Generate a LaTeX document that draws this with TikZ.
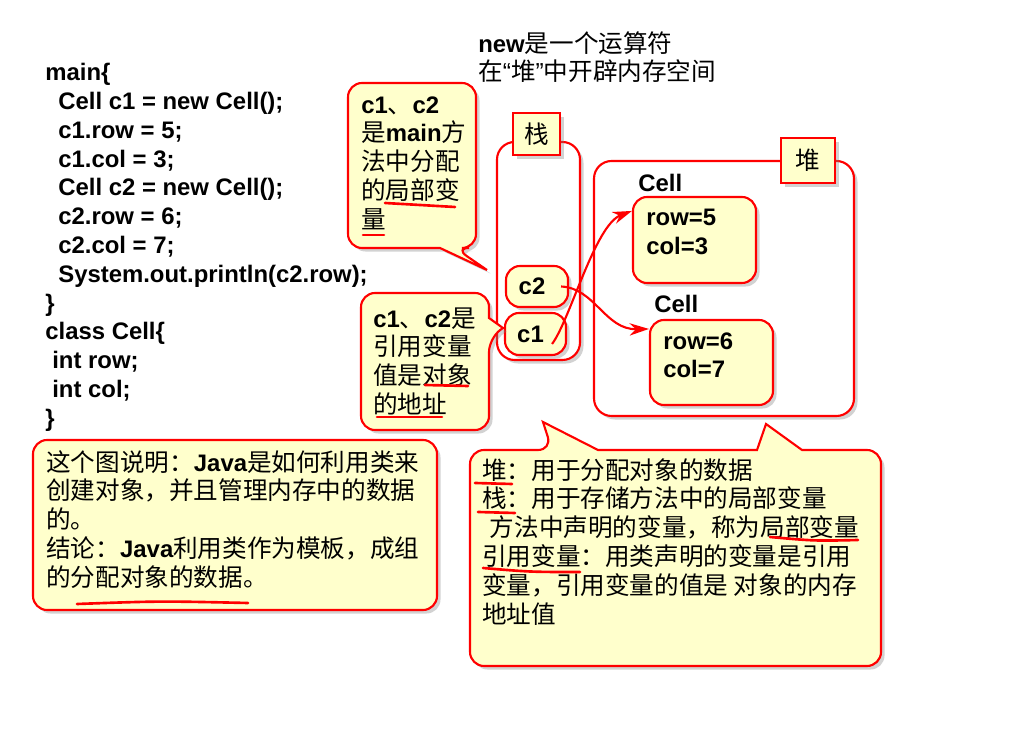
\documentclass[tikz,border=0pt]{standalone}
\usepackage{fontspec}
\setmainfont{Liberation Sans}
\newfontfamily\cjk{Noto Sans CJK SC}
\newcommand\zh[1]{{\cjk\mdseries\fontsize{14}{16.4}\selectfont #1}}
\newcommand\zhq[1]{{\mdseries\fontsize{14}{16.4}\selectfont #1}}
\usetikzlibrary{arrows.meta}
\usetikzlibrary{positioning,fit,shadows}

\definecolor{noteyellow}{HTML}{FFFFCC}
\definecolor{notered}{HTML}{FF0000}

\begin{document}
\begin{tikzpicture}[
    x=0.02cm, y=-0.02cm,
    txt/.style={inner sep=0pt, anchor=north west, align=left,
      font=\bfseries\fontsize{13.6}{16.4}\selectfont},
    shade/.style={drop shadow={shadow xshift=2pt, shadow yshift=-2pt, opacity=0.35}},
    note/.style={draw=notered, fill=noteyellow, line width=1.2pt, shade},
    box/.style={note, rounded corners=8pt, inner sep=0pt},
    region/.style={draw=notered, fill=white, line width=1.2pt, rounded corners=10pt,
      inner sep=0pt, shade},
    tag/.style={note, inner sep=0pt},
    ref/.style={draw=notered, line width=1.2pt, -{Stealth[length=11pt,width=7pt]}},
    uline/.style={notered, line width=1.5pt, line cap=round},
  ]

  \fill[white] (0,0) rectangle (1024,742);
  \useasboundingbox (0,0) rectangle (1024,742);

  % code and title
  \node[txt] (newop) at (478,31) {new\zh{是一个运算符}\\\zh{在}\zhq{“}\zh{堆}\zhq{”}\zh{中开辟内存空间}};
  \node[txt] (code) at (45,63) {main\{\\
    \hspace*{0.26cm}Cell c1 = new Cell();\\
    \hspace*{0.26cm}c1.row = 5;\\
    \hspace*{0.26cm}c1.col = 3;\\
    \hspace*{0.26cm}Cell c2 = new Cell();\\
    \hspace*{0.26cm}c2.row = 6;\\
    \hspace*{0.26cm}c2.col = 7;\\
    \hspace*{0.26cm}System.out.println(c2.row);\\
    \}\\
    class Cell\{\\
    \hspace*{0.14cm}int row;\\
    \hspace*{0.14cm}int col;\\
    \}};

  % stack
  \node[region, fit={(497,142) (580,360)}] (stack) {};
  \node[tag, fit={(513,113) (560,155)}] (stacktag) {};
  \node at (stacktag.center) {\zh{栈}};
  \node[box, fit={(506,266) (568,307)}] (c2) {};
  \node[txt, anchor=center] at ([xshift=-0.1cm]c2.center) {c2};
  \node[box, fit={(505,313) (566,355)}] (c1) {};
  \node[txt, anchor=center] at ([xshift=-0.1cm]c1.center) {c1};

  % heap
  \node[region, fit={(594,161) (854,416)}] (heap) {};
  \node[tag, fit={(781,138) (835,183)}] (heaptag) {};
  \node at (heaptag.center) {\zh{堆}};
  \node[txt, anchor=west] (cellAname) at (638,183) {Cell};
  \node[box, fit={(633,197) (756,283)}] (cellA) {};
  \node[txt] (cellAtext) at (646,209) {row=5\\col=3};
  \node[txt, anchor=west] (cellBname) at (654,304) {Cell};
  \node[box, fit={(650,320) (773,405)}] (cellB) {};
  \node[txt] (cellBtext) at (663,332) {row=6\\col=7};

  \draw[ref] ([shift={(-0.3cm,-0.2cm)}]c1.east) .. controls (570,320) and (595,225) .. ([yshift=-0.3cm]cellA.north west);
  \draw[ref] ([xshift=-0.16cm]c2.east) .. controls (595,288) and (605,330) .. ([yshift=-0.2cm]cellB.north west);

  % callouts
  \draw[note] (440,248) [rounded corners=8pt] -- (348,248) -- (348,83) -- (476,83) -- (476,248) -- (455,248) [sharp corners] -- (487,270) -- cycle;
  \node[txt] (note1) at (361,96) {c1\zh{、}c2\\\zh{是}main\zh{方}\\\zh{法中分配}\\\zh{的局部变}\\\zh{量}};
  \draw[uline] (385,203) .. controls (420,205) .. (455,207);
  \draw[uline] (363,235) -- (384,235);

  \draw[note] (489,318) [rounded corners=8pt] -- (489,293) -- (361,293) -- (361,430) -- (489,430) -- (489,338) [sharp corners] -- (503,328) -- cycle;
  \node[txt] (note2) at (373,307) {c1\zh{、}c2\zh{是}\\\zh{引用变量}\\\zh{值是对象}\\\zh{的地址}};
  \draw[uline] (425,385) -- (468,386);
  \draw[uline] (377,417) -- (442,417);

  \node[box, fit={(33,440) (437,610)}] (summary) {};
  \node[txt] (summarytext) at (46,450) {\zh{这个图说明：}Java\zh{是如何利用类来}\\
    \zh{创建对象，并且管理内存中的数据}\\
    \zh{的。}\\
    \zh{结论：}Java\zh{利用类作为模板，成组}\\
    \zh{的分配对象的数据。}};
  \draw[uline] (77,604) .. controls (160,601) .. (248,603);

  \draw[note] (552,450) -- (543,422) -- (598,450) -- (757,450) -- (766,424) -- (802,450) [rounded corners=8pt] -- (881,450) -- (881,666) -- (470,666) -- (470,450) -- cycle;
  \node[txt] (legend) at (482,458) {\zh{堆：用于分配对象的数据}\\
    \zh{栈：用于存储方法中的局部变量}\\
    \hspace*{0.15cm}\zh{方法中声明的变量，称为局部变量}\\
    \zh{引用变量：用类声明的变量是引用}\\
    \zh{变量，引用变量的值是 对象的内存}\\
    \zh{地址值}};
  \draw[uline] (475,483) -- (512,484);
  \draw[uline] (478,512) -- (515,513);
  \draw[uline] (770,537) .. controls (815,541) .. (858,540);
  \draw[uline] (483,568) .. controls (530,572) .. (580,572);

\end{tikzpicture}
\end{document}
